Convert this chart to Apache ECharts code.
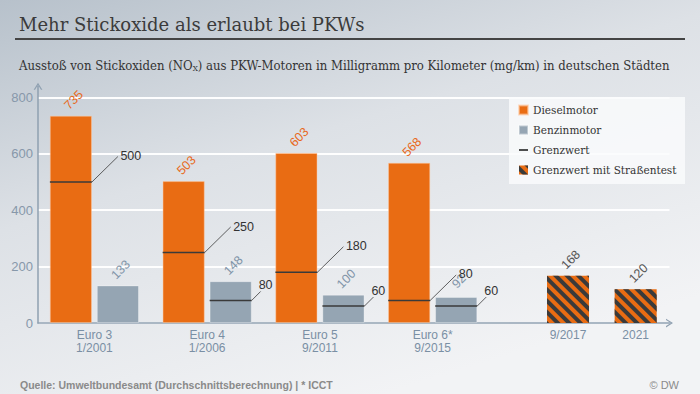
<!DOCTYPE html>
<html>
<head>
<meta charset="utf-8">
<script src="https://cdn.jsdelivr.net/npm/echarts@6/dist/echarts.min.js"></script>
<style>
  html, body { margin: 0; padding: 0; }
  #chart { width: 700px; height: 394px; }
</style>
</head>
<body>
<div id="chart"></div>
<script>
// ---- data ----
const categories = ['Euro 3\n1/2001', 'Euro 4\n1/2006', 'Euro 5\n9/2011', 'Euro 6*\n9/2015', '9/2017', '2021'];
const diesel = [735, 503, 603, 568, null, null];
const benzin = [133, 148, 100, 92, null, null];
const dieselLimit = [500, 250, 180, 80, null, null];
const benzinLimit = [null, 80, 60, 60, null, null];
const roadTestLimit = [null, null, null, null, 168, 120];
const legendNames = ['Dieselmotor', 'Benzinmotor', 'Grenzwert', 'Grenzwert mit Straßentest'];

// ---- layout (category slots along the x axis; blanks make the gaps) ----
const slotOf = [2, 7, 12, 17, 23, 26];
const slotCount = 28;

const SANS_N = '"Liberation Sans Narrow", "Arial Narrow", "Liberation Sans", Arial, sans-serif';
const SERIF = '"DejaVu Serif", Georgia, serif';
const SERIF_C = '"DejaVu Serif Condensed", "DejaVu Serif", serif';

const C_DIESEL = '#e96c13';
const C_BENZIN = '#95a5b3';
const C_DARK = '#3a3a3a';
const C_AXIS = '#8fa0b1';

const axisCats = new Array(slotCount).fill('');
const toSlots = (arr) => {
  const out = new Array(slotCount).fill(null);
  arr.forEach((v, i) => { out[slotOf[i]] = v; });
  return out;
};
slotOf.forEach((s, i) => { axisCats[s] = categories[i]; });

const limitData = [];
dieselLimit.forEach((v, i) => { if (v != null) limitData.push([slotOf[i], v, 0]); });
benzinLimit.forEach((v, i) => { if (v != null) limitData.push([slotOf[i], v, 1]); });

const chevron = 'path://M0,8 L5,0 L10,8 L8.4,8 L5,2.6 L1.6,8 Z';

const chart = echarts.init(document.getElementById('chart'), null, { renderer: 'svg' });

const barLabel = (color) => ({
  show: true, position: 'top', distance: 13, rotate: 45,
  align: 'center', verticalAlign: 'middle', offset: [4, 0],
  color: color, fontFamily: SANS_N, fontSize: 12.5
});

const option = {
  animation: false,
  backgroundColor: {
    type: 'linear', x: 0, y: 0, x2: 0.55, y2: 1,
    colorStops: [
      { offset: 0, color: '#b7c1cb' },
      { offset: 0.45, color: '#dde1e6' },
      { offset: 1, color: '#f2f3f5' }
    ]
  },
  title: [
    {
      text: 'Mehr Stickoxide als erlaubt bei PKWs', left: 14, top: 10,
      textStyle: { fontFamily: SERIF, fontSize: 18, fontWeight: 'normal', color: '#3b3b3b' }
    },
    {
      text: 'Ausstoß von Stickoxiden (NO{sub|X}) aus PKW-Motoren in Milligramm pro Kilometer (mg/km) in deutschen Städten',
      left: 14, top: 54,
      textStyle: {
        fontFamily: SERIF_C, fontSize: 13, fontWeight: 'normal', color: '#333',
        rich: { sub: { fontFamily: SERIF_C, fontSize: 8, color: '#333', verticalAlign: 'bottom' } }
      }
    },
    {
      text: 'Quelle: Umweltbundesamt (Durchschnittsberechnung) | * ICCT', left: 15, top: 374,
      textStyle: { fontFamily: SANS_N, fontSize: 10.5, fontWeight: 'bold', color: '#8a8a8a' }
    },
    {
      text: '© DW', right: 16, top: 374,
      textStyle: { fontFamily: SANS_N, fontSize: 11, fontWeight: 'normal', color: '#8a8a8a' }
    }
  ],
  graphic: [
    { type: 'line', z: 10, shape: { x1: 15, y1: 39, x2: 685, y2: 39 }, style: { stroke: '#444', lineWidth: 2 } },
    { type: 'rect', z: 1, shape: { x: 509, y: 97, width: 176, height: 87 }, style: { fill: 'rgba(250,251,252,0.82)' } }
  ],
  legend: {
    orient: 'vertical', left: 518, top: 103, padding: 0,
    itemWidth: 9, itemHeight: 9, itemGap: 6,
    textStyle: { fontFamily: SERIF_C, fontSize: 11.7, color: '#333', lineHeight: 14 },
    data: [
      { name: legendNames[0], icon: 'rect' },
      { name: legendNames[1], icon: 'rect' },
      { name: legendNames[2], icon: 'path://M0,0 M0,4 L10,4 L10,6 L0,6 Z M10,10' },
      { name: legendNames[3], icon: 'rect' }
    ]
  },
  grid: { left: 38, right: 30.5, top: 86.2, bottom: 71 },
  xAxis: [
    {
      type: 'category', data: axisCats,
      axisLine: { show: true, lineStyle: { color: C_AXIS, width: 1.5 }, symbol: ['none', chevron], symbolSize: [9, 7] },
      axisTick: { show: false },
      axisLabel: { interval: 0, color: '#7a8fa4', fontFamily: SANS_N, fontSize: 12, lineHeight: 13, margin: 5 },
      splitLine: { show: false }
    },
    { type: 'category', data: axisCats, show: false }
  ],
  yAxis: {
    type: 'value', min: 0, max: 840, interval: 200,
    axisLine: { show: true, lineStyle: { color: C_AXIS, width: 1.5 }, symbol: ['none', chevron], symbolSize: [9, 7] },
    axisTick: { show: false },
    axisLabel: { color: '#8798aa', fontFamily: SANS_N, fontSize: 13, margin: 5, showMaxLabel: false },
    splitLine: { show: true, showMaxLine: false, lineStyle: { color: 'rgba(255,255,255,0.95)', width: 2 } }
  },
  series: [
    {
      name: legendNames[0], type: 'bar', xAxisIndex: 0, data: toSlots(diesel),
      barWidth: 42, barGap: '12%',
      itemStyle: { color: C_DIESEL, borderColor: 'rgba(255,200,160,0.6)', borderWidth: 0.8 },
      label: barLabel('#e8691b')
    },
    {
      name: legendNames[1], type: 'bar', xAxisIndex: 0, data: toSlots(benzin),
      barWidth: 42, barGap: '12%',
      itemStyle: { color: C_BENZIN, borderColor: 'rgba(255,255,255,0.4)', borderWidth: 0.8 },
      label: barLabel('#8094a8')
    },
    {
      name: legendNames[3], type: 'bar', xAxisIndex: 1, data: toSlots(roadTestLimit),
      barWidth: 42,
      itemStyle: {
        color: C_DIESEL,
        decal: { symbol: 'rect', symbolSize: 1, color: C_DARK, dashArrayX: [1, 0], dashArrayY: [3.5, 3.5], rotation: Math.PI / 4 }
      },
      label: barLabel('#555')
    },
    {
      name: legendNames[2], type: 'custom', xAxisIndex: 0, z: 5,
      itemStyle: { color: C_DARK },
      data: limitData,
      renderItem: function (params, api) {
        const p = api.coord([api.value(0), api.value(1)]);
        const side = api.value(2);
        const cx = p[0] + (side === 0 ? -23.5 : 23.5);
        const half = 21;
        const long = side === 0;
        const dx = long ? 26 : 9, dy = long ? 25.5 : 9;
        const ex = cx + half + dx, ey = p[1] - dy;
        return {
          type: 'group',
          children: [
            { type: 'line', shape: { x1: cx - half, y1: p[1], x2: cx + half, y2: p[1] }, style: { stroke: C_DARK, lineWidth: 1.5 } },
            { type: 'line', shape: { x1: cx + half, y1: p[1], x2: ex, y2: ey }, style: { stroke: C_DARK, lineWidth: 0.8 } },
            {
              type: 'text', x: long ? ex + 2.5 : ex - 2, y: long ? ey - 0.5 : ey - 6,
              style: { text: String(api.value(1)), fill: '#333', font: '12.5px ' + SANS_N, align: 'left', verticalAlign: 'middle' }
            }
          ]
        };
      }
    }
  ]
};
chart.setOption(option);
</script>
</body>
</html>
